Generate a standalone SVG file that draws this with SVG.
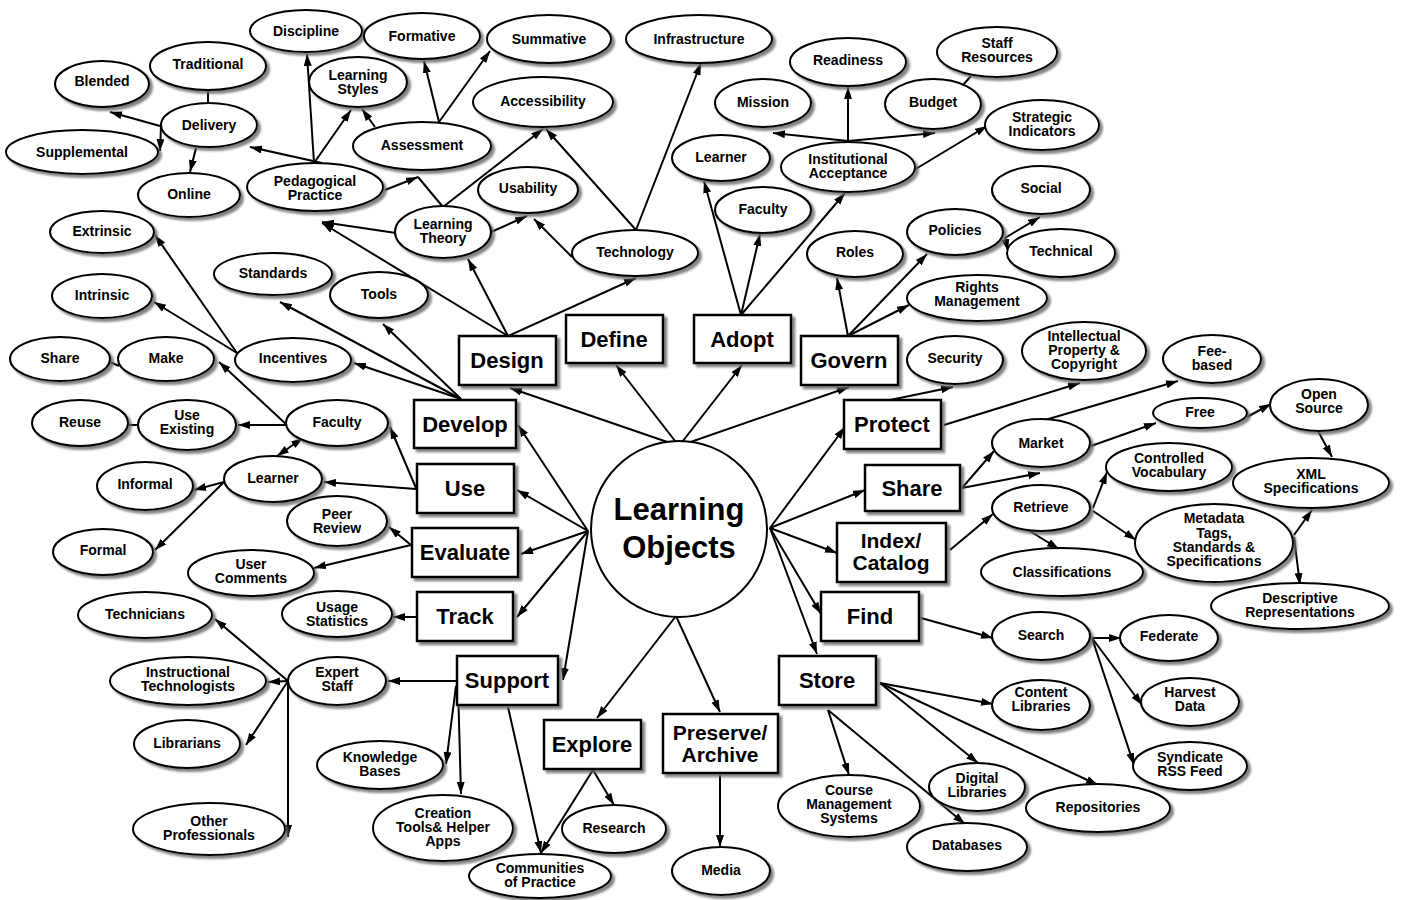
<svg xmlns="http://www.w3.org/2000/svg" width="1403" height="900" viewBox="0 0 1403 900">
<style>
.e ellipse{fill:#fff;stroke:#000;stroke-width:2;filter:url(#sh)}
.bx rect{fill:#fff;stroke:#000;stroke-width:2.5;filter:url(#sh)}
.c circle{fill:#fff;stroke:#000;stroke-width:2}
text{font-family:"Liberation Sans",Arial,Helvetica,sans-serif;font-weight:bold;text-anchor:middle;fill:#000}
.e text{font-size:14px}
.bx text{font-size:22px}
.bx text.m{font-size:21px}
.c text{font-size:31px}
#connectors line{stroke:#000;stroke-width:2;fill:none}
#connectors .a{marker-end:url(#ah)}
#connectors .d{marker-end:url(#ah);marker-start:url(#ah)}
</style>
<defs>
<filter id="sh" x="-10%" y="-10%" width="130%" height="140%">
<feDropShadow dx="3" dy="3" stdDeviation="1" flood-color="#666" flood-opacity="0.8"/>
</filter>
<marker id="ah" markerUnits="userSpaceOnUse" markerWidth="14" markerHeight="10" refX="12" refY="4" orient="auto-start-reverse">
<path d="M0,0 L12,4 L0,8 z" fill="#000"/>
</marker>
</defs>
<rect width="1403" height="900" fill="#fff"/>
<g id="connectors">
<line class="a" x1="160" y1="126" x2="110" y2="112"/>
<line class="a" x1="161" y1="126" x2="160" y2="151"/>
<line class="a" x1="196" y1="148" x2="190" y2="172"/>
<line x1="208" y1="90" x2="208" y2="103"/>
<line class="a" x1="322" y1="163" x2="250" y2="147"/>
<line class="a" x1="314" y1="163" x2="307" y2="54"/>
<line class="a" x1="314" y1="163" x2="351" y2="110"/>
<line class="a" x1="375" y1="127" x2="362" y2="109"/>
<line class="a" x1="439" y1="122" x2="424" y2="61"/>
<line class="a" x1="439" y1="122" x2="490" y2="51"/>
<line class="a" x1="385" y1="190" x2="418" y2="177"/>
<line x1="443" y1="207" x2="418" y2="177"/>
<line class="a" x1="443" y1="207" x2="543" y2="129"/>
<line class="a" x1="491" y1="232" x2="527" y2="216"/>
<line class="a" x1="396" y1="233" x2="322" y2="222"/>
<line class="a" x1="636" y1="230" x2="546" y2="129"/>
<line class="a" x1="636" y1="230" x2="701" y2="63"/>
<line class="a" x1="572" y1="257" x2="534" y2="219"/>
<line class="a" x1="508" y1="336" x2="322" y2="223"/>
<line class="a" x1="508" y1="336" x2="468" y2="259"/>
<line class="a" x1="508" y1="336" x2="636" y2="278"/>
<line class="a" x1="679" y1="446" x2="510" y2="388"/>
<line class="a" x1="679" y1="446" x2="616" y2="365"/>
<line class="a" x1="679" y1="446" x2="742" y2="365"/>
<line class="a" x1="679" y1="446" x2="849" y2="387"/>
<line class="a" x1="848" y1="142" x2="848" y2="87"/>
<line class="a" x1="848" y1="141" x2="773" y2="133"/>
<line class="a" x1="848" y1="141" x2="935" y2="133"/>
<line x1="963" y1="85" x2="971" y2="76"/>
<line class="a" x1="914" y1="170" x2="987" y2="126"/>
<line class="a" x1="741" y1="315" x2="704" y2="181"/>
<line class="a" x1="741" y1="315" x2="760" y2="234"/>
<line class="a" x1="741" y1="315" x2="845" y2="193"/>
<line class="a" x1="848" y1="336" x2="837" y2="278"/>
<line class="a" x1="848" y1="336" x2="927" y2="254"/>
<line class="a" x1="848" y1="336" x2="909" y2="305"/>
<line class="a" x1="1005" y1="238" x2="1040" y2="217"/>
<line class="a" x1="1005" y1="238" x2="1008" y2="251"/>
<line class="a" x1="890" y1="400" x2="953" y2="387"/>
<line class="a" x1="944" y1="425" x2="1080" y2="383"/>
<line class="a" x1="1045" y1="420" x2="1178" y2="381"/>
<line class="a" x1="1091" y1="446" x2="1156" y2="423"/>
<line class="a" x1="1247" y1="417" x2="1271" y2="404"/>
<line class="a" x1="1318" y1="431" x2="1332" y2="457"/>
<line class="a" x1="962" y1="488" x2="994" y2="451"/>
<line class="a" x1="962" y1="488" x2="1040" y2="473"/>
<line class="a" x1="770" y1="528" x2="845" y2="427"/>
<line class="a" x1="770" y1="528" x2="865" y2="490"/>
<line class="a" x1="770" y1="528" x2="837" y2="553"/>
<line class="a" x1="770" y1="528" x2="821" y2="614"/>
<line class="a" x1="770" y1="528" x2="817" y2="654"/>
<line class="a" x1="950" y1="550" x2="993" y2="514"/>
<line class="a" x1="1093" y1="508" x2="1107" y2="472"/>
<line class="a" x1="1093" y1="511" x2="1136" y2="540"/>
<line class="a" x1="1028" y1="530" x2="1059" y2="549"/>
<line class="a" x1="1294" y1="535" x2="1312" y2="510"/>
<line class="a" x1="1294" y1="537" x2="1300" y2="585"/>
<line class="a" x1="921" y1="618" x2="993" y2="638"/>
<line class="a" x1="1092" y1="638" x2="1121" y2="638"/>
<line class="a" x1="1092" y1="638" x2="1142" y2="705"/>
<line class="a" x1="1092" y1="638" x2="1134" y2="765"/>
<line class="a" x1="880" y1="683" x2="993" y2="704"/>
<line class="a" x1="880" y1="683" x2="978" y2="763"/>
<line class="a" x1="880" y1="683" x2="1098" y2="785"/>
<line class="a" x1="828" y1="710" x2="849" y2="775"/>
<line class="a" x1="828" y1="710" x2="965" y2="824"/>
<line class="a" x1="720" y1="775" x2="720" y2="847"/>
<line class="a" x1="676" y1="616" x2="597" y2="718"/>
<line class="a" x1="676" y1="616" x2="720" y2="712"/>
<line class="a" x1="593" y1="770" x2="614" y2="805"/>
<line class="a" x1="593" y1="770" x2="541" y2="853"/>
<line class="a" x1="508" y1="707" x2="541" y2="853"/>
<line class="a" x1="457" y1="681" x2="388" y2="681"/>
<line class="a" x1="456" y1="686" x2="446" y2="764"/>
<line class="a" x1="458" y1="686" x2="461" y2="794"/>
<line class="a" x1="288" y1="681" x2="215" y2="619"/>
<line class="a" x1="288" y1="681" x2="268" y2="682"/>
<line class="a" x1="288" y1="681" x2="246" y2="745"/>
<line class="a" x1="288" y1="681" x2="288" y2="837"/>
<line class="a" x1="588" y1="531" x2="518" y2="425"/>
<line class="a" x1="588" y1="531" x2="517" y2="490"/>
<line class="a" x1="588" y1="531" x2="521" y2="554"/>
<line class="a" x1="588" y1="531" x2="517" y2="617"/>
<line class="a" x1="588" y1="531" x2="563" y2="680"/>
<line class="a" x1="461" y1="399" x2="383" y2="324"/>
<line class="a" x1="461" y1="399" x2="280" y2="302"/>
<line class="a" x1="461" y1="399" x2="354" y2="363"/>
<line class="a" x1="416" y1="489" x2="324" y2="482"/>
<line class="a" x1="416" y1="488" x2="390" y2="427"/>
<line class="d" x1="277" y1="456" x2="303" y2="438"/>
<line class="a" x1="224" y1="482" x2="194" y2="490"/>
<line class="a" x1="224" y1="482" x2="155" y2="550"/>
<line class="a" x1="287" y1="425" x2="238" y2="425"/>
<line class="a" x1="287" y1="425" x2="219" y2="362"/>
<line x1="128" y1="425" x2="138" y2="425"/>
<line x1="110" y1="362" x2="119" y2="366"/>
<line class="a" x1="237" y1="353" x2="155" y2="235"/>
<line class="a" x1="237" y1="353" x2="154" y2="302"/>
<line class="a" x1="411" y1="545" x2="389" y2="527"/>
<line class="a" x1="411" y1="545" x2="314" y2="568"/>
<line class="a" x1="417" y1="617" x2="393" y2="617"/>
</g>
<g class="c">
<g id="n-learning-objects"><circle cx="679" cy="529" r="88"/><text x="679" y="520">Learning</text><text x="679" y="558">Objects</text></g>
</g>
<g class="bx">
<g id="n-design"><rect x="459" y="336" width="97" height="49"/><text x="507" y="368">Design</text></g>
<g id="n-define"><rect x="566" y="315" width="97" height="48"/><text x="614" y="347">Define</text></g>
<g id="n-adopt"><rect x="694" y="315" width="97" height="48"/><text x="742" y="347">Adopt</text></g>
<g id="n-govern"><rect x="801" y="336" width="97" height="49"/><text x="849" y="368">Govern</text></g>
<g id="n-develop"><rect x="414" y="400" width="102" height="48"/><text x="465" y="432">Develop</text></g>
<g id="n-use"><rect x="417" y="464" width="97" height="49"/><text x="465" y="496">Use</text></g>
<g id="n-evaluate"><rect x="412" y="528" width="106" height="49"/><text x="465" y="560">Evaluate</text></g>
<g id="n-track"><rect x="417" y="592" width="96" height="49"/><text x="465" y="624">Track</text></g>
<g id="n-support"><rect x="457" y="656" width="101" height="49"/><text x="507" y="688">Support</text></g>
<g id="n-explore"><rect x="544" y="720" width="97" height="49"/><text x="592" y="752">Explore</text></g>
<g id="n-preserve"><rect x="663" y="714" width="115" height="59"/><text class="m" x="720" y="740"><tspan x="720">Preserve/</tspan><tspan x="720" dy="22">Archive</tspan></text></g>
<g id="n-protect"><rect x="844" y="400" width="97" height="49"/><text x="892" y="432">Protect</text></g>
<g id="n-share-b"><rect x="865" y="465" width="95" height="46"/><text x="912" y="496">Share</text></g>
<g id="n-index"><rect x="837" y="523" width="109" height="59"/><text class="m" x="891" y="548"><tspan x="891">Index/</tspan><tspan x="891" dy="22">Catalog</tspan></text></g>
<g id="n-find"><rect x="821" y="592" width="98" height="49"/><text x="870" y="624">Find</text></g>
<g id="n-store"><rect x="779" y="656" width="97" height="49"/><text x="827" y="688">Store</text></g>
</g>
<g class="e">
<g id="n-discipline"><ellipse cx="306" cy="31" rx="56" ry="21"/><text x="306" y="36">Discipline</text></g>
<g id="n-formative"><ellipse cx="422" cy="36" rx="58" ry="23"/><text x="422" y="41">Formative</text></g>
<g id="n-summative"><ellipse cx="549" cy="39" rx="62" ry="24"/><text x="549" y="44">Summative</text></g>
<g id="n-infrastructure"><ellipse cx="699" cy="39" rx="73" ry="24"/><text x="699" y="44">Infrastructure</text></g>
<g id="n-traditional"><ellipse cx="208" cy="66" rx="58" ry="24"/><text x="208" y="69">Traditional</text></g>
<g id="n-blended"><ellipse cx="102" cy="84" rx="47" ry="23"/><text x="102" y="86">Blended</text></g>
<g id="n-learning-styles"><ellipse cx="358" cy="82" rx="49" ry="25"/><text x="358" y="80">Learning</text><text x="358" y="94">Styles</text></g>
<g id="n-delivery"><ellipse cx="209" cy="125" rx="48" ry="22"/><text x="209" y="130">Delivery</text></g>
<g id="n-supplemental"><ellipse cx="82" cy="152" rx="76" ry="22"/><text x="82" y="157">Supplemental</text></g>
<g id="n-accessibility"><ellipse cx="543" cy="102" rx="70" ry="25"/><text x="543" y="106">Accessibility</text></g>
<g id="n-assessment"><ellipse cx="422" cy="146" rx="69" ry="24"/><text x="422" y="150">Assessment</text></g>
<g id="n-pedagogical"><ellipse cx="315" cy="187" rx="68" ry="24"/><text x="315" y="186">Pedagogical</text><text x="315" y="200">Practice</text></g>
<g id="n-online"><ellipse cx="189" cy="195" rx="51" ry="22"/><text x="189" y="199">Online</text></g>
<g id="n-usability"><ellipse cx="528" cy="190" rx="50" ry="23"/><text x="528" y="193">Usability</text></g>
<g id="n-learning-theory"><ellipse cx="443" cy="232" rx="48" ry="26"/><text x="443" y="229">Learning</text><text x="443" y="243">Theory</text></g>
<g id="n-technology"><ellipse cx="635" cy="253" rx="63" ry="23"/><text x="635" y="257">Technology</text></g>
<g id="n-extrinsic"><ellipse cx="102" cy="232" rx="52" ry="21"/><text x="102" y="236">Extrinsic</text></g>
<g id="n-standards"><ellipse cx="273" cy="274" rx="59" ry="21"/><text x="273" y="278">Standards</text></g>
<g id="n-tools"><ellipse cx="379" cy="295" rx="49" ry="23"/><text x="379" y="299">Tools</text></g>
<g id="n-intrinsic"><ellipse cx="102" cy="296" rx="50" ry="22"/><text x="102" y="300">Intrinsic</text></g>
<g id="n-readiness"><ellipse cx="848" cy="62" rx="58" ry="24"/><text x="848" y="65">Readiness</text></g>
<g id="n-staff-resources"><ellipse cx="997" cy="52" rx="60" ry="25"/><text x="997" y="48">Staff</text><text x="997" y="62">Resources</text></g>
<g id="n-mission"><ellipse cx="763" cy="103" rx="48" ry="24"/><text x="763" y="107">Mission</text></g>
<g id="n-budget"><ellipse cx="933" cy="104" rx="48" ry="25"/><text x="933" y="107">Budget</text></g>
<g id="n-strategic"><ellipse cx="1042" cy="125" rx="57" ry="25"/><text x="1042" y="122">Strategic</text><text x="1042" y="136">Indicators</text></g>
<g id="n-learner-top"><ellipse cx="721" cy="158" rx="49" ry="23"/><text x="721" y="162">Learner</text></g>
<g id="n-inst-acc"><ellipse cx="848" cy="167" rx="67" ry="25"/><text x="848" y="164">Institutional</text><text x="848" y="178">Acceptance</text></g>
<g id="n-faculty-top"><ellipse cx="763" cy="210" rx="48" ry="23"/><text x="763" y="214">Faculty</text></g>
<g id="n-social"><ellipse cx="1041" cy="190" rx="49" ry="24"/><text x="1041" y="193">Social</text></g>
<g id="n-policies"><ellipse cx="955" cy="232" rx="48" ry="23"/><text x="955" y="235">Policies</text></g>
<g id="n-technical"><ellipse cx="1061" cy="253" rx="54" ry="24"/><text x="1061" y="256">Technical</text></g>
<g id="n-roles"><ellipse cx="855" cy="254" rx="48" ry="23"/><text x="855" y="257">Roles</text></g>
<g id="n-rights"><ellipse cx="977" cy="298" rx="70" ry="23"/><text x="977" y="292">Rights</text><text x="977" y="306">Management</text></g>
<g id="n-share-l"><ellipse cx="60" cy="359" rx="50" ry="22"/><text x="60" y="363">Share</text></g>
<g id="n-make"><ellipse cx="166" cy="359" rx="48" ry="22"/><text x="166" y="363">Make</text></g>
<g id="n-incentives"><ellipse cx="293" cy="360" rx="58" ry="22"/><text x="293" y="363">Incentives</text></g>
<g id="n-reuse"><ellipse cx="80" cy="423" rx="48" ry="23"/><text x="80" y="427">Reuse</text></g>
<g id="n-use-existing"><ellipse cx="187" cy="425" rx="49" ry="25"/><text x="187" y="420">Use</text><text x="187" y="434">Existing</text></g>
<g id="n-faculty-l"><ellipse cx="337" cy="423" rx="51" ry="23"/><text x="337" y="427">Faculty</text></g>
<g id="n-learner-l"><ellipse cx="273" cy="479" rx="49" ry="23"/><text x="273" y="483">Learner</text></g>
<g id="n-informal"><ellipse cx="145" cy="486" rx="48" ry="24"/><text x="145" y="489">Informal</text></g>
<g id="n-formal"><ellipse cx="103" cy="552" rx="50" ry="23"/><text x="103" y="555">Formal</text></g>
<g id="n-peer-review"><ellipse cx="337" cy="521" rx="50" ry="25"/><text x="337" y="519">Peer</text><text x="337" y="533">Review</text></g>
<g id="n-user-comments"><ellipse cx="251" cy="573" rx="63" ry="23"/><text x="251" y="569">User</text><text x="251" y="583">Comments</text></g>
<g id="n-usage-stats"><ellipse cx="337" cy="614" rx="55" ry="23"/><text x="337" y="612">Usage</text><text x="337" y="626">Statistics</text></g>
<g id="n-technicians"><ellipse cx="145" cy="615" rx="67" ry="23"/><text x="145" y="619">Technicians</text></g>
<g id="n-inst-tech"><ellipse cx="188" cy="681" rx="78" ry="24"/><text x="188" y="677">Instructional</text><text x="188" y="691">Technologists</text></g>
<g id="n-librarians"><ellipse cx="187" cy="744" rx="53" ry="24"/><text x="187" y="748">Librarians</text></g>
<g id="n-other-prof"><ellipse cx="209" cy="829" rx="76" ry="26"/><text x="209" y="826">Other</text><text x="209" y="840">Professionals</text></g>
<g id="n-expert-staff"><ellipse cx="337" cy="681" rx="49" ry="24"/><text x="337" y="677">Expert</text><text x="337" y="691">Staff</text></g>
<g id="n-knowledge-bases"><ellipse cx="380" cy="765" rx="63" ry="24"/><text x="380" y="762">Knowledge</text><text x="380" y="776">Bases</text></g>
<g id="n-creation-tools"><ellipse cx="443" cy="828" rx="70" ry="33"/><text x="443" y="818">Creation</text><text x="443" y="832">Tools&amp; Helper</text><text x="443" y="846">Apps</text></g>
<g id="n-communities"><ellipse cx="540" cy="876" rx="71" ry="22"/><text x="540" y="873">Communities</text><text x="540" y="887">of Practice</text></g>
<g id="n-research"><ellipse cx="614" cy="829" rx="52" ry="24"/><text x="614" y="833">Research</text></g>
<g id="n-media"><ellipse cx="721" cy="871" rx="49" ry="24"/><text x="721" y="875">Media</text></g>
<g id="n-cms"><ellipse cx="849" cy="806" rx="71" ry="31"/><text x="849" y="795">Course</text><text x="849" y="809">Management</text><text x="849" y="823">Systems</text></g>
<g id="n-digital-lib"><ellipse cx="977" cy="787" rx="48" ry="24"/><text x="977" y="783">Digital</text><text x="977" y="797">Libraries</text></g>
<g id="n-databases"><ellipse cx="967" cy="847" rx="60" ry="24"/><text x="967" y="850">Databases</text></g>
<g id="n-repositories"><ellipse cx="1098" cy="808" rx="72" ry="24"/><text x="1098" y="812">Repositories</text></g>
<g id="n-content-lib"><ellipse cx="1041" cy="705" rx="49" ry="25"/><text x="1041" y="697">Content</text><text x="1041" y="711">Libraries</text></g>
<g id="n-search"><ellipse cx="1041" cy="636" rx="49" ry="24"/><text x="1041" y="640">Search</text></g>
<g id="n-federate"><ellipse cx="1169" cy="638" rx="49" ry="23"/><text x="1169" y="641">Federate</text></g>
<g id="n-harvest"><ellipse cx="1190" cy="702" rx="49" ry="24"/><text x="1190" y="697">Harvest</text><text x="1190" y="711">Data</text></g>
<g id="n-syndicate"><ellipse cx="1190" cy="766" rx="57" ry="24"/><text x="1190" y="762">Syndicate</text><text x="1190" y="776">RSS Feed</text></g>
<g id="n-classifications"><ellipse cx="1062" cy="572" rx="81" ry="24"/><text x="1062" y="577">Classifications</text></g>
<g id="n-descriptive"><ellipse cx="1300" cy="606" rx="89" ry="23"/><text x="1300" y="603">Descriptive</text><text x="1300" y="617">Representations</text></g>
<g id="n-metadata"><ellipse cx="1214" cy="543" rx="79" ry="39"/><text x="1214" y="523">Metadata</text><text x="1214" y="538">Tags,</text><text x="1214" y="552">Standards &amp;</text><text x="1214" y="566">Specifications</text></g>
<g id="n-retrieve"><ellipse cx="1041" cy="508" rx="49" ry="23"/><text x="1041" y="512">Retrieve</text></g>
<g id="n-market"><ellipse cx="1041" cy="443" rx="49" ry="24"/><text x="1041" y="448">Market</text></g>
<g id="n-controlled"><ellipse cx="1169" cy="467" rx="63" ry="24"/><text x="1169" y="463">Controlled</text><text x="1169" y="477">Vocabulary</text></g>
<g id="n-xml"><ellipse cx="1311" cy="483" rx="78" ry="25"/><text x="1311" y="479">XML</text><text x="1311" y="493">Specifications</text></g>
<g id="n-free"><ellipse cx="1200" cy="413" rx="47" ry="15"/><text x="1200" y="417">Free</text></g>
<g id="n-open-source"><ellipse cx="1319" cy="405" rx="49" ry="26"/><text x="1319" y="399">Open</text><text x="1319" y="413">Source</text></g>
<g id="n-fee-based"><ellipse cx="1212" cy="359" rx="49" ry="24"/><text x="1212" y="356">Fee-</text><text x="1212" y="370">based</text></g>
<g id="n-ip"><ellipse cx="1084" cy="351" rx="62" ry="29"/><text x="1084" y="341">Intellectual</text><text x="1084" y="355">Property &amp;</text><text x="1084" y="369">Copyright</text></g>
<g id="n-security"><ellipse cx="955" cy="360" rx="48" ry="24"/><text x="955" y="363">Security</text></g>
</g>
</svg>
